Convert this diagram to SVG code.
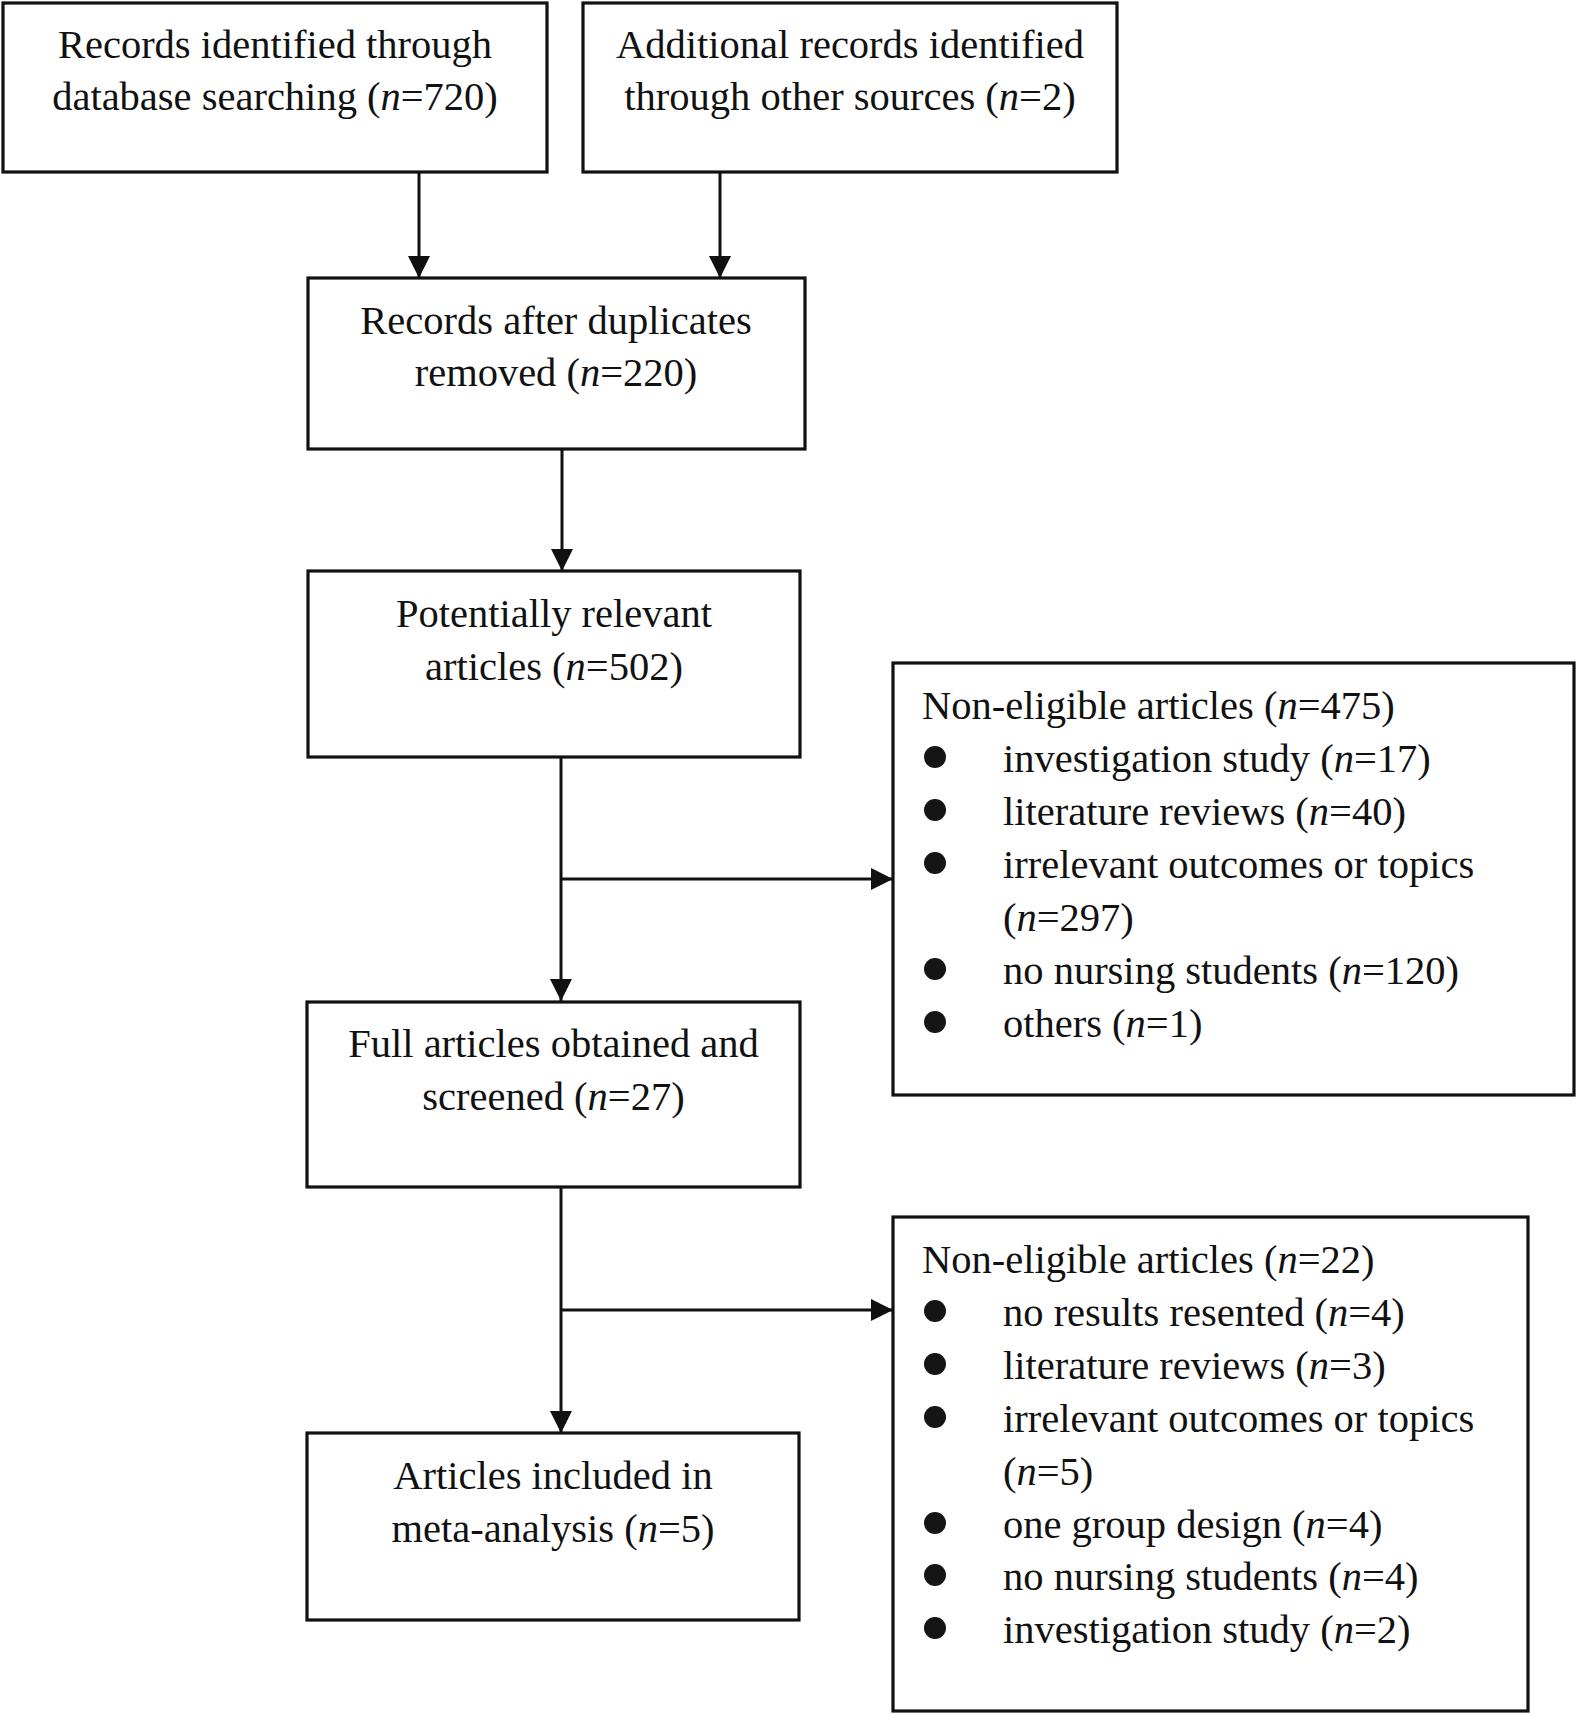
<svg xmlns="http://www.w3.org/2000/svg" width="1578" height="1715" viewBox="0 0 1578 1715">
<defs>
<style>
.box{fill:#fff;stroke:#111;stroke-width:3.2}
.ln{fill:none;stroke:#111;stroke-width:3}
text{font-family:"Liberation Serif","Times New Roman",serif;font-size:40.5px;fill:#111}
.c{text-anchor:middle}
.i{font-style:italic}
.b{fill:#151515}
</style>
<marker id="ah" markerUnits="userSpaceOnUse" markerWidth="22" markerHeight="22" viewBox="0 0 20 20" refX="20" refY="10" orient="auto">
<path d="M0,0 L20,10 L0,20 Z" fill="#111"/>
</marker>
</defs>
<rect width="1578" height="1715" fill="#fff"/>
<g id="connectors">
<line class="ln" x1="419" y1="172" x2="419" y2="278" marker-end="url(#ah)"/>
<line class="ln" x1="720" y1="172" x2="720" y2="278" marker-end="url(#ah)"/>
<line class="ln" x1="562" y1="449" x2="562" y2="571" marker-end="url(#ah)"/>
<line class="ln" x1="561" y1="757" x2="561" y2="1001" marker-end="url(#ah)"/>
<line class="ln" x1="561" y1="879" x2="893" y2="879" marker-end="url(#ah)"/>
<line class="ln" x1="561" y1="1187" x2="561" y2="1433" marker-end="url(#ah)"/>
<line class="ln" x1="561" y1="1310" x2="893" y2="1310" marker-end="url(#ah)"/>
</g>
<g id="n1">
<rect class="box" x="3" y="3" width="544" height="169"/>
<text class="c" x="275" y="58">Records identified through</text>
<text class="c" x="275" y="110">database searching (<tspan class="i">n</tspan>=720)</text>
</g>
<g id="n2">
<rect class="box" x="583" y="3" width="534" height="169"/>
<text class="c" x="850" y="58">Additional records identified</text>
<text class="c" x="850" y="110">through other sources (<tspan class="i">n</tspan>=2)</text>
</g>
<g id="n3">
<rect class="box" x="308" y="278" width="497" height="171"/>
<text class="c" x="556" y="334">Records after duplicates</text>
<text class="c" x="556" y="386">removed (<tspan class="i">n</tspan>=220)</text>
</g>
<g id="n4">
<rect class="box" x="308" y="571" width="492" height="186"/>
<text class="c" x="554" y="627">Potentially relevant</text>
<text class="c" x="554" y="680">articles (<tspan class="i">n</tspan>=502)</text>
</g>
<g id="n5">
<rect class="box" x="893" y="663" width="681" height="432"/>
<text x="922" y="719">Non-eligible articles (<tspan class="i">n</tspan>=475)</text>
<circle class="b" cx="935" cy="757" r="11"/>
<text x="1003" y="772">investigation study (<tspan class="i">n</tspan>=17)</text>
<circle class="b" cx="935" cy="810" r="11"/>
<text x="1003" y="825">literature reviews (<tspan class="i">n</tspan>=40)</text>
<circle class="b" cx="935" cy="863" r="11"/>
<text x="1003" y="878">irrelevant outcomes or topics</text>
<text x="1003" y="931">(<tspan class="i">n</tspan>=297)</text>
<circle class="b" cx="935" cy="969" r="11"/>
<text x="1003" y="984">no nursing students (<tspan class="i">n</tspan>=120)</text>
<circle class="b" cx="935" cy="1022" r="11"/>
<text x="1003" y="1037">others (<tspan class="i">n</tspan>=1)</text>
</g>
<g id="n6">
<rect class="box" x="307" y="1002" width="493" height="185"/>
<text class="c" x="553.5" y="1057">Full articles obtained and</text>
<text class="c" x="553.5" y="1110">screened (<tspan class="i">n</tspan>=27)</text>
</g>
<g id="n7">
<rect class="box" x="307" y="1433" width="492" height="187"/>
<text class="c" x="553" y="1489">Articles included in</text>
<text class="c" x="553" y="1542">meta-analysis (<tspan class="i">n</tspan>=5)</text>
</g>
<g id="n8">
<rect class="box" x="893" y="1217" width="635" height="494"/>
<text x="922" y="1273">Non-eligible articles (<tspan class="i">n</tspan>=22)</text>
<circle class="b" cx="935" cy="1311" r="11"/>
<text x="1003" y="1326">no results resented (<tspan class="i">n</tspan>=4)</text>
<circle class="b" cx="935" cy="1364" r="11"/>
<text x="1003" y="1379">literature reviews (<tspan class="i">n</tspan>=3)</text>
<circle class="b" cx="935" cy="1417" r="11"/>
<text x="1003" y="1432">irrelevant outcomes or topics</text>
<text x="1003" y="1485">(<tspan class="i">n</tspan>=5)</text>
<circle class="b" cx="935" cy="1523" r="11"/>
<text x="1003" y="1538">one group design (<tspan class="i">n</tspan>=4)</text>
<circle class="b" cx="935" cy="1575" r="11"/>
<text x="1003" y="1590">no nursing students (<tspan class="i">n</tspan>=4)</text>
<circle class="b" cx="935" cy="1628" r="11"/>
<text x="1003" y="1643">investigation study (<tspan class="i">n</tspan>=2)</text>
</g>
</svg>
